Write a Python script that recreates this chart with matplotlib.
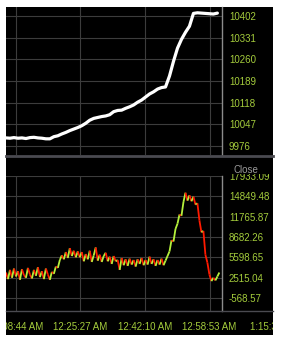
#!/usr/bin/env python

import datetime as dt
import pandas as pd
import matplotlib
matplotlib.use("Agg")
import matplotlib.pyplot as plt
import matplotlib.dates as mdates
from matplotlib.patches import Rectangle
from matplotlib.lines import Line2D
from matplotlib.collections import LineCollection
from matplotlib.transforms import Bbox, TransformedBbox
import numpy as np

# Data
start_time = dt.datetime(2024, 1, 1, 0, 6, 9)

top_vals = [10002, 10001, 10003, 10001, 10002, 10000, 10003, 10004, 10002, 10001,
            9999, 9999, 10006, 10009, 10015, 10020, 10026, 10031, 10036, 10042,
            10050, 10060, 10066, 10069, 10072, 10074, 10078, 10088, 10092, 10093,
            10099, 10104, 10110, 10119, 10126, 10136, 10146, 10153, 10162, 10167,
            10169, 10205, 10253, 10296, 10325, 10348, 10368, 10410, 10412, 10411,
            10410, 10409, 10408, 10411]

close_vals = [3300, 2300, 3700, 2500, 3900, 2700, 3500, 2200, 3800, 2900,
              2500, 4000, 3000, 2400, 3700, 2800, 4100, 2600, 3500, 2300,
              3900, 3000, 2200, 3400,
              3100, 4200, 4000, 5200, 5900, 5300,
              6400, 5500, 7000, 5800, 6600, 5600, 6500,
              5600, 6400, 5000, 6100, 5300, 6600, 4900, 5900, 7100, 5100,
              6000, 4900, 5800, 6300, 5000, 5700, 4600, 5800, 5000,
              5200, 3700, 5500, 4400, 5300, 4300, 5400, 4500, 5200, 4200,
              5300, 4600, 5500, 4400, 5200, 4500, 5700, 4600, 5300, 4300,
              5200, 4500, 5400, 4400, 5100,
              5800, 6500, 8200, 8000, 9900, 10700, 12100, 11900, 14000, 15400,
              14200, 15000, 14100, 14800,
              13600, 13800, 11200, 9400, 9600, 6000, 4800, 3000, 2000,
              2500, 2100, 2700, 3300]

top_ticks = [9976, 10047, 10118, 10189, 10260, 10331, 10402]
close_ticks = [-568.57, 2515.04, 5598.65, 8682.26, 11765.87, 14849.48, 17933.09]
close_tick_labels = ["-568.57", "2515.04", "5598.65", "8682.26", "11765.87", "14849.48", "17933.09"]
time_ticks = [dt.datetime(2024, 1, 1, 0, 8, 44), dt.datetime(2024, 1, 1, 0, 25, 27),
              dt.datetime(2024, 1, 1, 0, 42, 10), dt.datetime(2024, 1, 1, 0, 58, 53)]
extra_tick = dt.datetime(2024, 1, 1, 1, 15, 36)
x_end = dt.datetime(2024, 1, 1, 1, 2, 7)

top_times = pd.date_range(start_time, periods=len(top_vals), freq="62s")
close_times = pd.date_range(start_time, periods=len(close_vals), freq="31s")

label_col = "#a4cc3c"
grid_col = "#3c3c3c"
font = "Liberation Sans"


def time_fmt(x, pos=None):
    d = mdates.num2date(x)
    return d.strftime("%I:%M:%S %p").lstrip("0")


fig = plt.figure(figsize=(2.82, 3.41), dpi=100, facecolor="white")
W, H = 282.0, 341.0

# Black panel behind both charts
bg = Rectangle((6 / W, 1 - 335 / H), 267 / W, 328 / H, transform=fig.transFigure,
               facecolor="black", edgecolor="none", zorder=-5)
fig.patches.append(bg)

# Clip boxes (figure fractions)
panel_box = TransformedBbox(Bbox([[6 / W, 1 - 335 / H], [273 / W, 1 - 7 / H]]), fig.transFigure)
head_box = TransformedBbox(Bbox([[6 / W, 1 - 335 / H], [273 / W, 1 - 174 / H]]), fig.transFigure)

ax1 = fig.add_axes([6 / W, 1 - 155 / H, 216 / W, 148 / H])
ax2 = fig.add_axes([6 / W, 1 - 311 / H, 216 / W, 135 / H])

for ax in (ax1, ax2):
    ax.set_facecolor("black")
    for side in ("top", "left", "bottom"):
        ax.spines[side].set_visible(False)
    ax.spines["right"].set_color("#8c8c8c")
    ax.spines["right"].set_linewidth(1.0)
    ax.yaxis.tick_right()
    ax.tick_params(axis="y", length=0, pad=5, labelsize=7, labelcolor=label_col)
    ax.tick_params(axis="x", length=0, pad=8, labelsize=7, labelcolor=label_col)
    ax.set_xticks(mdates.date2num(time_ticks))
    ax.xaxis.set_major_formatter(plt.FuncFormatter(time_fmt))
    ax.set_xlim(mdates.date2num(start_time), mdates.date2num(x_end))
    ax.grid(True, color=grid_col, linewidth=0.8)
    ax.set_axisbelow(True)

# Top panel
ax1.plot(mdates.date2num(top_times), top_vals, color="white", linewidth=2.3,
         solid_capstyle="round")
ax1.set_ylim(9946, 10431)
ax1.set_yticks(top_ticks)
ax1.set_yticklabels([str(v) for v in top_ticks], fontfamily=font)
ax1.tick_params(axis="x", labelbottom=False)

# Bottom panel: colour each step by direction
xs = mdates.date2num(close_times)
ys = np.array(close_vals, dtype=float)
segs = [[(xs[i], ys[i]), (xs[i + 1], ys[i + 1])] for i in range(len(xs) - 1)]
cols = ["#ff1a00" if ys[i + 1] < ys[i] else "#b4f03c" for i in range(len(xs) - 1)]
ax2.add_collection(LineCollection(segs, colors=cols, linewidths=1.3))
ax2.set_ylim(-2534, 17933.09)
ax2.set_yticks(close_ticks)
ax2.set_yticklabels(close_tick_labels, fontfamily=font)

# Last time label lies past the plot edge
extra = ax2.annotate(time_fmt(mdates.date2num(extra_tick)),
                     xy=(mdates.date2num(extra_tick), 0), xycoords=ax2.get_xaxis_transform(),
                     xytext=(0, -8), textcoords="offset points", ha="center", va="top",
                     fontsize=7, color=label_col, fontfamily=font, annotation_clip=False)
extra.set_clip_box(panel_box)
extra.set_clip_on(True)

fig.text(246 / W, 1 - 170 / H, "Close", ha="center", va="center", fontsize=7,
         color="#9a9a9a", fontfamily=font)

# Separator lines
fig.add_artist(Line2D([6 / W, 273 / W], [1 - 156 / H, 1 - 156 / H], color="#4a4a50",
                      linewidth=2.0, transform=fig.transFigure))
fig.add_artist(Line2D([6 / W, 273 / W], [1 - 311 / H, 1 - 311 / H], color="#4a4a50",
                      linewidth=1.0, transform=fig.transFigure))

fig.canvas.draw()

# Clip labels to the black panel, top label under the header
for t in ax2.xaxis.get_major_ticks():
    t.label1.set_fontfamily(font)
    t.label1.set_clip_box(panel_box)
    t.label1.set_clip_on(True)
for t in ax2.yaxis.get_major_ticks():
    t.label2.set_clip_box(head_box)
    t.label2.set_clip_on(True)

plt.savefig("out.png", dpi=100, facecolor="white")
